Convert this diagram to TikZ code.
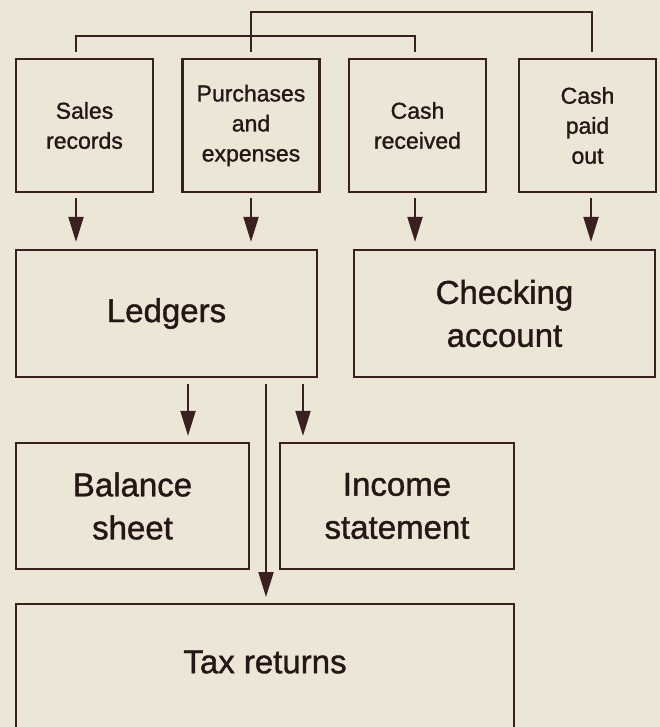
\documentclass[tikz,border=0pt]{standalone}
\usepackage{fontspec}
\setmainfont[FakeBold=1.2]{Liberation Sans}
\usetikzlibrary{arrows.meta,calc}
\definecolor{ink}{HTML}{3A2020}
\definecolor{textc}{HTML}{261616}
\definecolor{paper}{HTML}{ECE6D6}
\begin{document}
\begin{tikzpicture}[x=1pt,y=-1pt,
  box/.style={draw=ink, line width=2.2pt, rectangle, inner sep=0pt, align=center, text=textc},
  small/.style={box, minimum width=137pt, minimum height=133pt, font=\fontsize{23}{30}\selectfont},
  big/.style={box, font=\fontsize{33}{43}\selectfont},
  arr/.style={draw=ink, line width=2pt, -{Triangle[length=25pt,width=15pt]}},
  link/.style={draw=ink, line width=2pt}]
\useasboundingbox (0,0) rectangle (660,727);
\clip (0,0) rectangle (660,727);
\fill[paper] (0,0) rectangle (660,727);

% top row
\node[small] (sales)   at (84.5,125.5)  {Sales\\records};
\node[small] (purch)   at (251,125.5)   {Purchases\\and\\expenses};
\node[small] (cashin)  at (417.5,125.5) {Cash\\received};
\node[small] (cashout) at (587.5,125.5) {Cash\\paid\\out};

% middle row
\node[big, minimum width=301pt, minimum height=127pt] (ledgers)  at (166.5,313.5) {Ledgers};
\node[big, minimum width=301pt, minimum height=127pt] (checking) at (504.5,313.5) {Checking\\account};

% statements
\node[big, minimum width=233pt, minimum height=126pt] (balance) at (132.5,506) {Balance\\sheet};
\node[big, minimum width=234pt, minimum height=126pt] (income)  at (397,506)   {Income\\statement};

% tax returns (runs off the bottom)
\node[box, minimum width=498pt, minimum height=160pt, anchor=north] (tax) at (265,603) {};
\node[big, draw=none] (taxlabel) at (265,662) {Tax returns};

% top connectors
\draw[link] ([yshift=6pt]purch.north) -- ++(0,-40) -| ([xshift=4.5pt,yshift=6pt]cashout.north);
\draw[link] ([xshift=-8.5pt,yshift=6pt]sales.north) -- ++(0,-16) -| ([xshift=-2.5pt,yshift=6pt]cashin.north);

% arrows from top row
\coordinate (sA) at ($(sales.south)+(-8.5,0)$);
\coordinate (pA) at (purch.south);
\coordinate (cA) at ($(cashin.south)+(-2.5,0)$);
\coordinate (oA) at ($(cashout.south)+(3.5,0)$);
\draw[arr, shorten <=5pt, shorten >=7pt] (sA) -- (sA |- ledgers.north);
\draw[arr, shorten <=5pt, shorten >=7pt] (pA) -- (pA |- ledgers.north);
\draw[arr, shorten <=5pt, shorten >=7pt] (cA) -- (cA |- checking.north);
\draw[arr, shorten <=5pt, shorten >=7pt] (oA) -- (oA |- checking.north);

% arrows from ledgers
\coordinate (lB) at ($(ledgers.south)+(21.5,0)$);
\coordinate (lT) at ($(ledgers.south)+(99.5,0)$);
\coordinate (lI) at ($(ledgers.south)+(136.5,0)$);
\draw[arr, shorten <=6pt, shorten >=6pt] (lB) -- (lB |- balance.north);
\draw[arr, shorten <=6pt, shorten >=6pt] (lI) -- (lI |- income.north);
\draw[arr, shorten <=6pt, shorten >=6pt] (lT) -- (lT |- tax.north);
\end{tikzpicture}
\end{document}
